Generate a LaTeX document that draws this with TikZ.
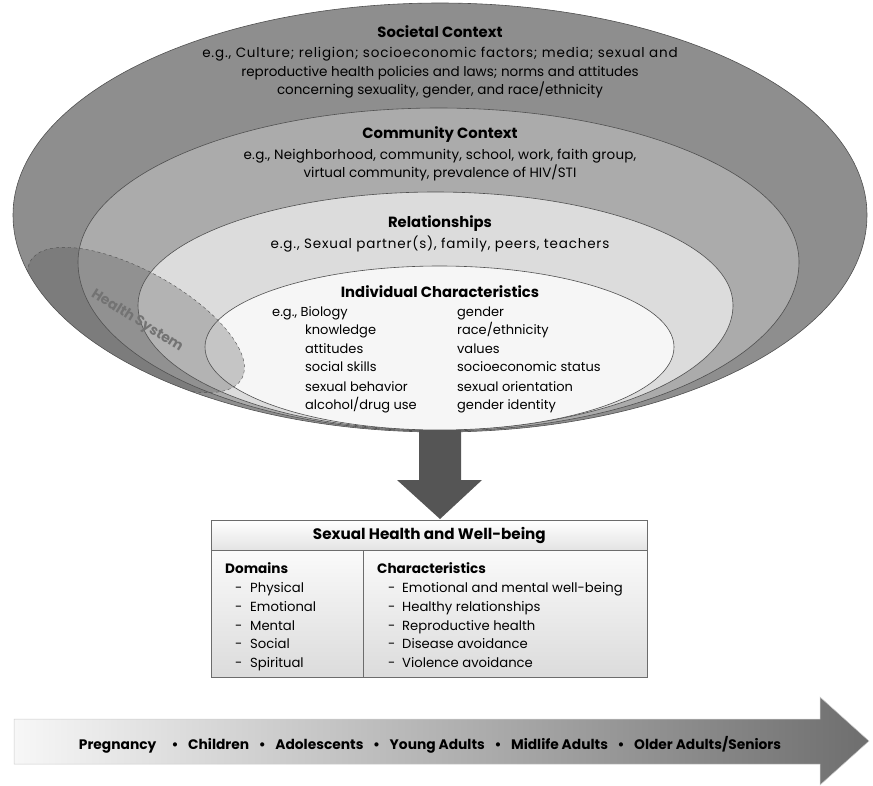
\documentclass[tikz,border=0pt]{standalone}
\usepackage{fontspec}
\setmainfont{Poppins}
\begin{document}
\begin{tikzpicture}[x=1pt,y=1pt]
\useasboundingbox (0,0) rectangle (873,-785);
\definecolor{cOut}{HTML}{8E8E8E}
\definecolor{cCom}{HTML}{ABABAB}
\definecolor{cRel}{HTML}{DCDCDC}
\definecolor{cInd}{HTML}{F6F6F6}
\definecolor{cLine}{HTML}{505050}
\definecolor{cArrow}{HTML}{555555}
\definecolor{cLifeL}{HTML}{F7F7F7}
\definecolor{cLifeR}{HTML}{6E6E6E}
\tikzset{
  ring/.style={draw=cLine, line width=0.6pt},
  headtxt/.style={font=\fontsize{14.8}{16}\selectfont\bfseries, inner sep=0pt},
  bodytxt/.style={font=\fontsize{13.5}{18.5}\selectfont, align=center, inner sep=0pt},
  itemtxt/.style={font=\fontsize{13}{14}\selectfont, anchor=base west, inner sep=0pt},
  boxline/.style={draw=gray!85!black, line width=0.8pt},
  boxtxt/.style={font=\fontsize{13.2}{14}\selectfont, anchor=base west, inner sep=0pt},
  boxhead/.style={font=\fontsize{13.6}{14}\selectfont\bfseries, anchor=base west, inner sep=0pt},
}
\def\outerpath{(13,-215) arc[start angle=180,end angle=0,x radius=427,y radius=212]
   arc[start angle=0,end angle=-180,x radius=427,y radius=217] -- cycle}
% nested contexts
\path[ring, fill=cOut] \outerpath;
\path[ring, fill=cCom] (78,-262) arc[start angle=180,end angle=0,x radius=360.5,y radius=154]
   arc[start angle=0,end angle=-180,x radius=360.5,y radius=169] -- cycle;
\path[ring, fill=cRel] (138,-305) arc[start angle=180,end angle=0,x radius=297.5,y radius=113]
   arc[start angle=0,end angle=-180,x radius=297.5,y radius=125] -- cycle;
\path[ring, fill=cInd] (205,-347) arc[start angle=180,end angle=0,x radius=234.5,y radius=81]
   arc[start angle=0,end angle=-180,x radius=234.5,y radius=83] -- cycle;
% health system
\begin{scope}
\clip \outerpath;
\path[shift={(136,-320)}, rotate=-29, fill=cArrow, fill opacity=0.3, draw=cLine, dashed, line width=0.4pt]
   (0,0) ellipse[x radius=121, y radius=49];
\end{scope}
\node[font=\fontsize{14}{15}\selectfont\bfseries, text=black!55, rotate=-32, inner sep=0pt] (hs) at (137,-321) {Health System};

% texts
\node[headtxt] (soch) at (440,-32) {Societal Context};
\node[bodytxt] (socb) at (440,-73) {\addfontfeature{LetterSpace=6}e.g., Culture; religion; socioeconomic factors; media; sexual and\\reproductive health policies and laws; norms and attitudes\\concerning sexuality, gender, and race/ethnicity};
\node[headtxt] (comh) at (440,-135) {Community Context};
\node[bodytxt] (comb) at (440,-165) {\addfontfeature{LetterSpace=1.5}e.g., Neighborhood, community, school, work, faith group,\\virtual community, prevalence of HIV/STI};
\node[headtxt] (relh) at (440,-224) {Relationships};
\node[bodytxt] (relb) at (440,-244) {\addfontfeature{LetterSpace=6}e.g., Sexual partner(s), family, peers, teachers};
\node[headtxt] (indh) at (440,-292) {Individual Characteristics};
\node[itemtxt] (i1) at (272,-316) {e.g., Biology};
\node[itemtxt] (i2) at (305,-334) {knowledge};
\node[itemtxt] (i3) at (305,-353) {attitudes};
\node[itemtxt] (i4) at (305,-371) {social skills};
\node[itemtxt] (i5) at (305,-391) {sexual behavior};
\node[itemtxt] (i6) at (305,-409) {alcohol/drug use};
\node[itemtxt] (j1) at (457,-316) {gender};
\node[itemtxt] (j2) at (457,-334) {race/ethnicity};
\node[itemtxt] (j3) at (457,-353) {values};
\node[itemtxt] (j4) at (457,-371) {socioeconomic status};
\node[itemtxt] (j5) at (457,-391) {sexual orientation};
\node[itemtxt] (j6) at (457,-409) {gender identity};

% sexual health box
\node[boxline, top color=white, bottom color=gray!22, minimum width=436pt, minimum height=30pt,
      anchor=north west, inner sep=0pt, font=\fontsize{15.2}{16}\selectfont\bfseries] (hdr) at (211,-520) {Sexual Health and Well-being};
\node[boxline, top color=gray!4, bottom color=gray!28, minimum width=152pt, minimum height=127pt,
      anchor=north west, inner sep=0pt] (dom) at (211,-550) {};
\node[boxline, top color=gray!4, bottom color=gray!28, minimum width=284pt, minimum height=127pt,
      anchor=north west, inner sep=0pt] (chr) at (363,-550) {};
\node[boxhead] (domh) at (225,-573) {Domains};
\node[boxtxt] (d1) at (235,-592) {\makebox[15pt][l]{-}Physical};
\node[boxtxt] (d2) at (235,-611) {\makebox[15pt][l]{-}Emotional};
\node[boxtxt] (d3) at (235,-630) {\makebox[15pt][l]{-}Mental};
\node[boxtxt] (d4) at (235,-648) {\makebox[15pt][l]{-}Social};
\node[boxtxt] (d5) at (235,-667) {\makebox[15pt][l]{-}Spiritual};
\node[boxhead] (chrh) at (377,-573) {Characteristics};
\node[boxtxt] (c1) at (388,-592) {\makebox[14pt][l]{-}Emotional and mental well-being};
\node[boxtxt] (c2) at (388,-611) {\makebox[14pt][l]{-}Healthy relationships};
\node[boxtxt] (c3) at (388,-630) {\makebox[14pt][l]{-}Reproductive health};
\node[boxtxt] (c4) at (388,-648) {\makebox[14pt][l]{-}Disease avoidance};
\node[boxtxt] (c5) at (388,-667) {\makebox[14pt][l]{-}Violence avoidance};

% down arrow
\coordinate (atop) at (440,-430);
\coordinate (atip) at (440,-519);
\path[fill=cArrow] (419,-430) -- (461,-430) -- (461,-480) -- (482,-480) -- (atip)
   -- (397,-480) -- (419,-480) -- cycle;

% life course arrow
\path[left color=cLifeL, right color=cLifeR, draw=gray!40, line width=0.5pt]
   (14,-719) -- (820,-719) -- (820,-697) -- (869,-741) -- (820,-785) -- (820,-764) -- (14,-764) -- cycle;
\node[font=\fontsize{13.8}{14}\selectfont\bfseries, inner sep=0pt] (life) at (430,-745)
   {Pregnancy\hspace{1.1em}•\hspace{0.7em}Children\hspace{0.7em}•\hspace{0.7em}Adolescents\hspace{0.7em}•\hspace{0.7em}Young Adults\hspace{0.7em}•\hspace{0.7em}Midlife Adults\hspace{0.7em}•\hspace{0.7em}Older Adults/Seniors};
\end{tikzpicture}
\end{document}
